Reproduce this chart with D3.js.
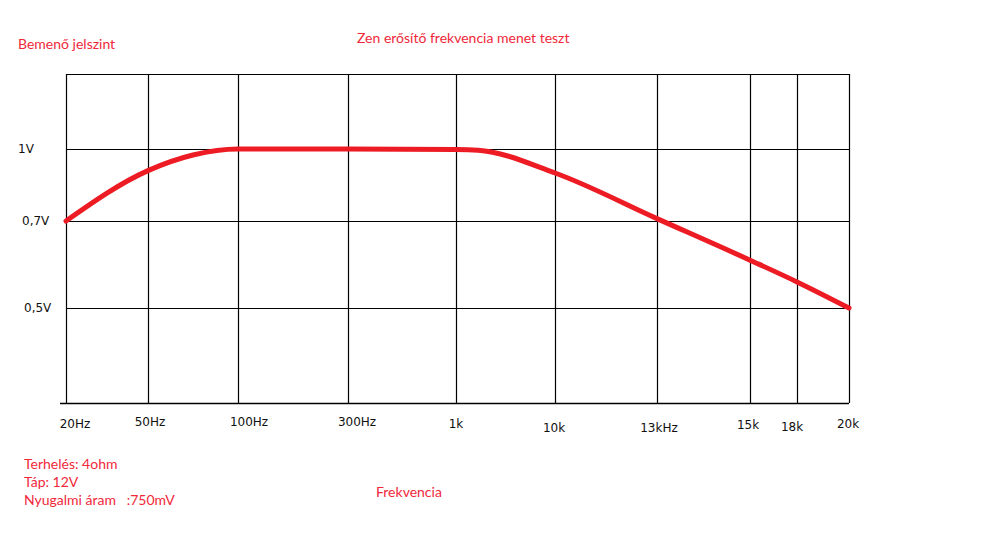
<!DOCTYPE html>
<html><head><meta charset="utf-8">
<script src="https://cdn.jsdelivr.net/npm/d3@7"></script>
<style>
body{margin:0;background:#fff;}
svg{display:block;}
</style></head>
<body>
<svg id="c" width="1005" height="551"></svg>
<script>
// ---- data ----
const freqTicks = [20, 50, 100, 300, 1000, 10000, 13000, 15000, 18000, 20000];
const freqLabels = ["20Hz", "50Hz", "100Hz", "300Hz", "1k", "10k", "13kHz", "15k", "18k", "20k"];
const levelTicks = [0.5, 0.7, 1.0];
const levelLabels = ["0,5V", "0,7V", "1V"];
const curveFreq = [20, 50, 75, 100, 300, 1000, 3000, 10000, 13000, 15000, 18000, 20000];
const curveLevel = [0.70, 0.91, 0.975, 1.0, 1.0, 0.998, 0.995, 0.90, 0.71, 0.61, 0.56, 0.50];
const title = "Zen erősítő frekvencia menet teszt";
const yTitle = "Bemenő jelszint";
const xTitle = "Frekvencia";
const notes = ["Terhelés: 4ohm", "Táp: 12V", "Nyugalmi áram   :750mV"];

// ---- layout ----
const svg = d3.select("#c");
const red = "#ed1c24";
const textRed = "#f0283a";
const x = d3.scaleLinear()
  .domain(freqTicks)
  .range([66, 148, 238, 348, 456, 555, 657, 750, 797, 849]);
const y = d3.scaleLinear()
  .domain([0.3, 0.5, 0.7, 1.0, 1.3])
  .range([403, 308, 221, 149, 74]);

const g = svg.append("g");

// vertical grid lines
g.selectAll("line.v").data(freqTicks).enter().append("line")
  .attr("x1", d => Math.round(x(d)) + 0.5).attr("x2", d => Math.round(x(d)) + 0.5)
  .attr("y1", y(1.3)).attr("y2", y(0.3))
  .attr("stroke", "#000").attr("stroke-width", 1.2);

// horizontal grid lines (top + ticks)
g.selectAll("line.h").data([1.3].concat(levelTicks)).enter().append("line")
  .attr("x1", x(20)).attr("x2", x(20000))
  .attr("y1", d => Math.round(y(d)) + 0.5).attr("y2", d => Math.round(y(d)) + 0.5)
  .attr("stroke", "#000").attr("stroke-width", 1.2);

// bottom axis line
g.append("line")
  .attr("x1", x(20) - 6).attr("x2", x(20000))
  .attr("y1", Math.round(y(0.3)) + 0.5).attr("y2", Math.round(y(0.3)) + 0.5)
  .attr("stroke", "#000").attr("stroke-width", 1.5);

// x tick labels
const labelNudge = [9, 2, 11, 9, 0, -1, 2, -2, -5, -1];
const labelDy = [0, -2, -2, -2, 0, 4, 4, 1, 3, 0];
g.selectAll("text.xl").data(freqTicks).enter().append("text")
  .attr("x", (d, i) => x(d) + labelNudge[i])
  .attr("y", (d, i) => 428 + labelDy[i])
  .attr("text-anchor", "middle")
  .attr("font-family", "DejaVu Sans, sans-serif").attr("font-size", 12)
  .attr("fill", "#111")
  .text((d, i) => freqLabels[i]);

// y tick labels
const yNudge = [24, 22, 18];
g.selectAll("text.yl").data(levelTicks).enter().append("text")
  .attr("x", (d, i) => yNudge[i])
  .attr("y", d => y(d) + 4)
  .attr("font-family", "DejaVu Sans, sans-serif").attr("font-size", 12)
  .attr("fill", "#111")
  .text((d, i) => levelLabels[i]);

// curve
const line = d3.line()
  .x((d, i) => x(curveFreq[i]))
  .y(d => y(d))
  .curve(d3.curveMonotoneX);
g.append("path")
  .attr("d", line(curveLevel))
  .attr("fill", "none").attr("stroke", red)
  .attr("stroke-width", 5).attr("stroke-linecap", "round").attr("stroke-linejoin", "round");

// texts
const tf = "Lato, 'Open Sans', sans-serif";
svg.append("text").attr("x", 357).attr("y", 43).attr("font-family", tf).attr("font-size", 14)
  .attr("fill", textRed).text(title);
svg.append("text").attr("x", 18).attr("y", 49).attr("font-family", tf).attr("font-size", 14)
  .attr("fill", textRed).text(yTitle);
svg.append("text").attr("x", 376).attr("y", 497).attr("font-family", tf).attr("font-size", 14)
  .attr("fill", textRed).text(xTitle);
svg.selectAll("text.note").data(notes).enter().append("text")
  .attr("x", 24).attr("y", (d, i) => 469 + i * 18)
  .attr("font-family", tf).attr("font-size", 14)
  .attr("fill", textRed).attr("xml:space", "preserve").style("white-space", "pre")
  .text(d => d);
</script>
</body></html>
